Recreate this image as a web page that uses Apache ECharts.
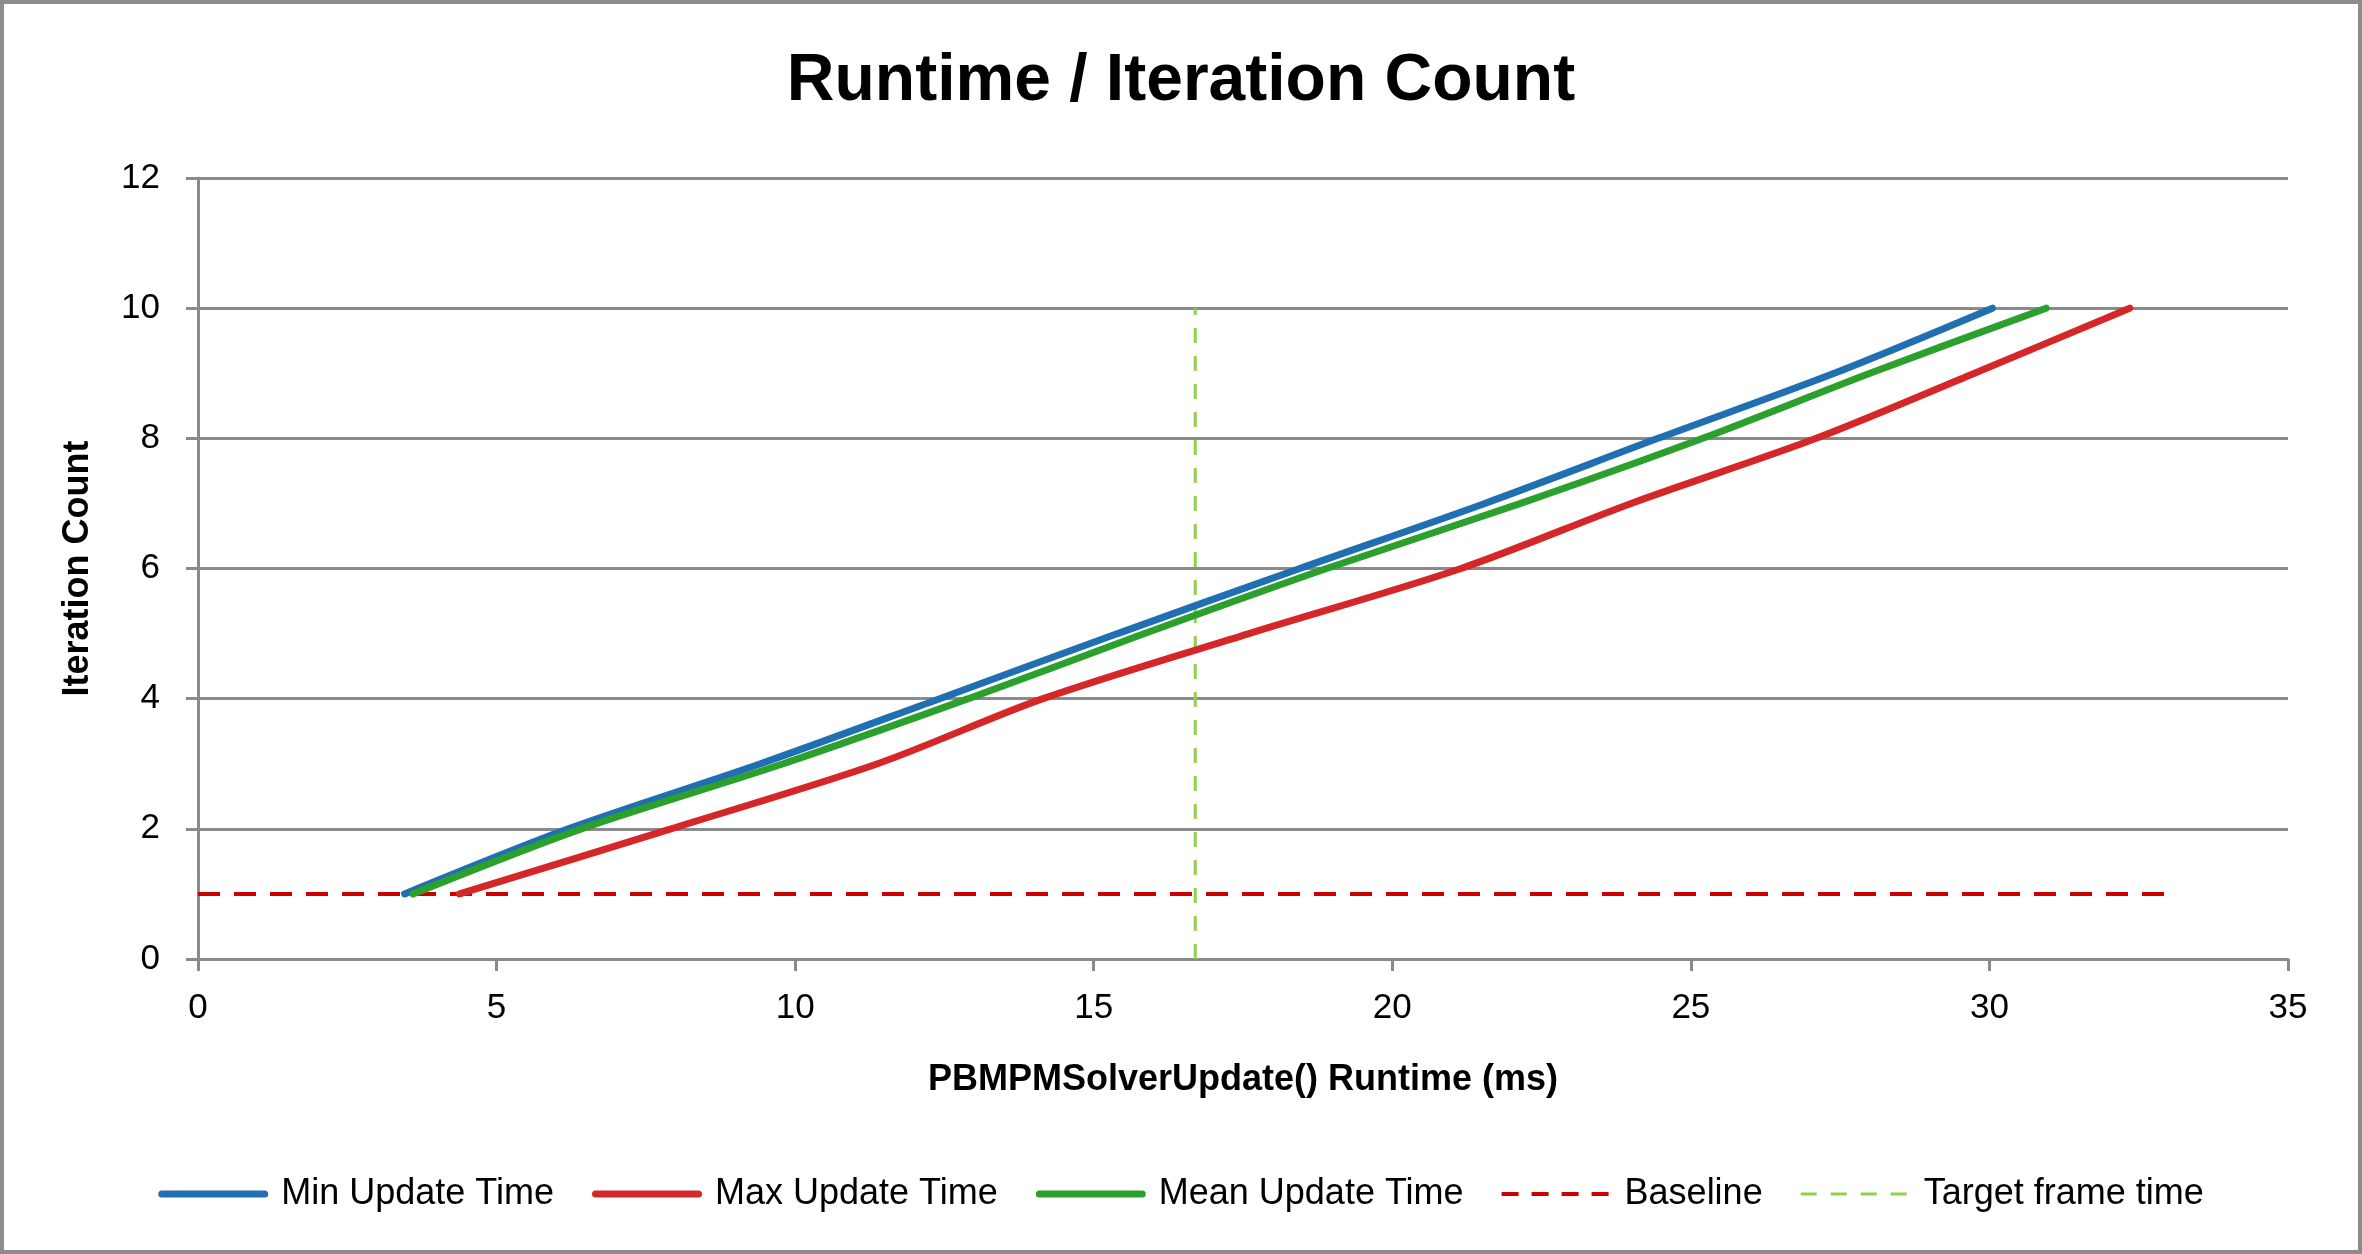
<!DOCTYPE html>
<html>
<head>
<meta charset="utf-8">
<script src="https://cdn.jsdelivr.net/npm/echarts@6/dist/echarts.min.js"></script>
<style>
  html, body { margin: 0; padding: 0; background: #ffffff; }
  #chart { width: 2362px; height: 1254px; }
</style>
</head>
<body>
<div id="chart"></div>
<script>
// Iteration counts (y) and runtimes in ms (x)
const iterations = [1, 2, 3, 4, 5, 6, 7, 8, 9, 10];
const minTime  = [3.46, 6.20, 9.42, 12.42, 15.40, 18.45, 21.55, 24.45, 27.40, 30.05];
const maxTime  = [4.38, 7.92, 11.38, 14.15, 17.60, 21.15, 24.00, 27.10, 29.75, 32.35];
const meanTime = [3.60, 6.42, 9.80, 12.90, 15.85, 18.90, 22.15, 25.20, 28.00, 30.95];
// Reference lines
const baselineX = [0, 33];
const baselineY = [1, 1];
const targetX = [16.7, 16.7];
const targetY = [0, 10];
// Axis ticks
const xTicks = [0, 5, 10, 15, 20, 25, 30, 35];
const yTicks = [0, 2, 4, 6, 8, 10, 12];

const seriesNames = ['Min Update Time', 'Max Update Time', 'Mean Update Time', 'Baseline', 'Target frame time'];
const colors = ['#1f6fb2', '#d62728', '#2ca02c', '#cc0000', '#8fd14f'];

function pairs(xs, ys) { return xs.map((x, i) => [x, ys[i]]); }

const sans = "'Liberation Sans', Arial, sans-serif";
const gridColor = '#8a8a8a';
const solidIcon = 'path://M3.5,0H106.5A3.5,3.5,0,0,1,106.5,7H3.5A3.5,3.5,0,0,1,3.5,0Z';
const dashIconThick = 'path://M0,-0.5 M0,1.5h17v4h-17z M30,1.5h17v4h-17z M60,1.5h17v4h-17z M90,1.5h17v4h-17z M110,7.5';
const dashIconThin = 'path://M0,-0.5 M0,2h16v3h-16z M30,2h16v3h-16z M60,2h16v3h-16z M90,2h16v3h-16z M110,7.5';

const chart = echarts.init(document.getElementById('chart'), null, { renderer: 'canvas' });

chart.setOption({
  backgroundColor: '#ffffff',
  animation: false,
  title: {
    text: 'Runtime / Iteration Count',
    left: 'center',
    top: 44,
    textStyle: { fontFamily: sans, fontWeight: 'bold', fontSize: 66, color: '#000000' }
  },
  graphic: [{
    type: 'rect',
    shape: { x: 2, y: 2, width: 2358, height: 1250 },
    style: { fill: 'none', stroke: '#8c8c8c', lineWidth: 4 },
    silent: true
  }],
  legend: {
    left: 'center',
    top: 1171,
    itemWidth: 110,
    itemHeight: 8,
    itemGap: 38,
    data: [
      { name: seriesNames[0], icon: solidIcon },
      { name: seriesNames[1], icon: solidIcon },
      { name: seriesNames[2], icon: solidIcon },
      { name: seriesNames[3], icon: dashIconThick },
      { name: seriesNames[4], icon: dashIconThin }
    ],
    textStyle: { fontFamily: sans, fontSize: 36, color: '#000000', padding: [0, 0, 0, 8] }
  },
  grid: { left: 198, right: 74, top: 178, bottom: 295, containLabel: false },
  xAxis: {
    type: 'value',
    min: xTicks[0],
    max: xTicks[xTicks.length - 1],
    interval: xTicks[1] - xTicks[0],
    name: 'PBMPMSolverUpdate() Runtime (ms)',
    nameLocation: 'middle',
    nameGap: 103,
    nameTextStyle: { fontFamily: sans, fontWeight: 'bold', fontSize: 36, color: '#000000' },
    axisLine: { show: true, onZero: false, lineStyle: { color: gridColor, width: 3 } },
    axisTick: { show: true, length: 12, lineStyle: { color: gridColor, width: 3 } },
    axisLabel: { fontFamily: sans, fontSize: 35, color: '#000000', margin: 32 },
    splitLine: { show: false }
  },
  yAxis: {
    type: 'value',
    min: yTicks[0],
    max: yTicks[yTicks.length - 1],
    interval: yTicks[1] - yTicks[0],
    name: 'Iteration Count',
    nameLocation: 'middle',
    nameGap: 102,
    nameTextStyle: { fontFamily: sans, fontWeight: 'bold', fontSize: 36, color: '#000000' },
    axisLine: { show: true, lineStyle: { color: gridColor, width: 3 } },
    axisTick: { show: true, length: 12, lineStyle: { color: gridColor, width: 3 } },
    axisLabel: { fontFamily: sans, fontSize: 35, color: '#000000', margin: 38 },
    splitLine: { show: true, lineStyle: { color: gridColor, width: 3 } }
  },
  series: [
    {
      name: seriesNames[0], type: 'line', smooth: 0.3, symbol: 'none',
      data: pairs(minTime, iterations),
      lineStyle: { color: colors[0], width: 7, cap: 'round' }, itemStyle: { color: colors[0] }, z: 4
    },
    {
      name: seriesNames[1], type: 'line', smooth: 0.3, symbol: 'none',
      data: pairs(maxTime, iterations),
      lineStyle: { color: colors[1], width: 7, cap: 'round' }, itemStyle: { color: colors[1] }, z: 4
    },
    {
      name: seriesNames[2], type: 'line', smooth: 0.3, symbol: 'none',
      data: pairs(meanTime, iterations),
      lineStyle: { color: colors[2], width: 7, cap: 'round' }, itemStyle: { color: colors[2] }, z: 5
    },
    {
      name: seriesNames[3], type: 'line', symbol: 'none',
      data: pairs(baselineX, baselineY),
      lineStyle: { color: colors[3], width: 4, type: [22, 14] }, itemStyle: { color: colors[3] }, z: 3
    },
    {
      name: seriesNames[4], type: 'line', symbol: 'none',
      data: pairs(targetX, targetY),
      lineStyle: { color: colors[4], width: 3, type: [15, 13] }, itemStyle: { color: colors[4] }, z: 3
    }
  ]
});
</script>
</body>
</html>
